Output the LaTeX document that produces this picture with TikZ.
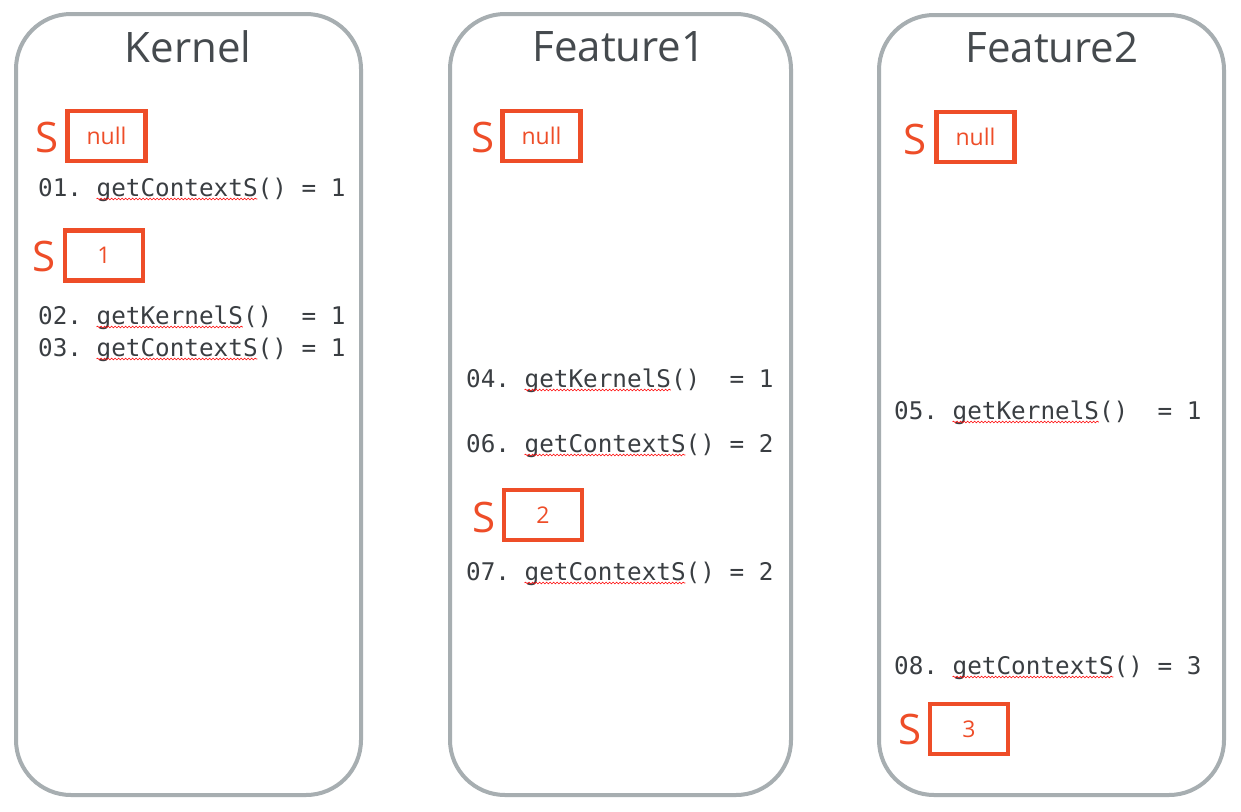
\documentclass[tikz,border=0pt]{standalone}
\usepackage{fontspec}
\setmainfont{Open Sans}
\setmonofont{DejaVu Sans Mono}
\usetikzlibrary{decorations.pathmorphing}
\definecolor{panelgray}{HTML}{A7AEB1}
\definecolor{sred}{HTML}{EE4D28}
\definecolor{codegray}{HTML}{3A3E42}
\definecolor{titlegray}{HTML}{454A4E}
\tikzset{
  panel/.style={draw=panelgray, line width=4pt, rounded corners=55pt, minimum width=345pt, minimum height=781pt, inner sep=0pt},
  ptitle/.style={text=titlegray, font=\fontsize{42}{50}\selectfont, inner sep=0pt},
  slabel/.style={text=sred, font=\fontsize{42}{50}\selectfont, inner sep=0pt},
  valbox/.style={draw=sred, line width=4.5pt, minimum width=78pt, minimum height=50pt, text=sred, font=\fontsize{23}{28}\selectfont, inner sep=0pt},
  codeline/.style={anchor=base west, text=codegray, font=\ttfamily\fontsize{24.3}{29}\selectfont\frenchspacing, inner sep=0pt},
  spell/.style={draw=red, line width=0.6pt, decorate, decoration={snake, amplitude=0.9pt, segment length=3.5pt}}
}
\newcommand{\spellmark}[3]{\draw[spell] ({#1+4*14.63},{#2+3}) -- ({#1+#3*14.63},{#2+3});}
\begin{document}
\begin{tikzpicture}[x=1pt,y=-1pt]
\useasboundingbox (0,0) rectangle (1241,811);
\fill[white] (0,0) rectangle (1241,811);
% panels
\node[panel] (kernel) at (188.5,404.5) {};
\node[panel, minimum width=341pt] (feat1) at (620.5,404.5) {};
\node[panel, minimum height=780pt] (feat2) at (1051.5,405) {};
% titles
\node[ptitle] (tk) at (188,47) {Kernel};
\node[ptitle] (tf1) at (619,47) {Feature1};
\node[ptitle] (tf2) at (1052,47) {Feature2};
% Kernel
\node[slabel] (ks1) at (47.5,137) {S};
\node[valbox] (kb1) at (106.5,136) {null};
\node[codeline] (k01) at (38,196) {01.\ getContextS()\ =\ 1};
\node[slabel] (ks2) at (44,256) {S};
\node[valbox] (kb2) at (104,255.5) {1};
\node[codeline] (k02) at (38,324) {02.\ getKernelS()\ \ =\ 1};
\node[codeline] (k03) at (38,356) {03.\ getContextS()\ =\ 1};
% Feature1
\node[slabel] (fs1) at (483,137) {S};
\node[valbox] (fb1) at (541.5,136) {null};
\node[codeline] (f04) at (466,387) {04.\ getKernelS()\ \ =\ 1};
\node[codeline] (f06) at (466,452) {06.\ getContextS()\ =\ 2};
\node[slabel] (fs2) at (484,517) {S};
\node[valbox] (fb2) at (543,515) {2};
\node[codeline] (f07) at (466,580) {07.\ getContextS()\ =\ 2};
% Feature2
\node[slabel] (gs1) at (915,139) {S};
\node[valbox] (gb1) at (975.5,137) {null};
\node[codeline] (g05) at (894,419) {05.\ getKernelS()\ \ =\ 1};
\node[codeline] (g08) at (894,674) {08.\ getContextS()\ =\ 3};
\node[slabel] (gs2) at (910,729) {S};
\node[valbox] (gb2) at (969,729) {3};
% spell-check marks
\spellmark{38}{196}{15}
\spellmark{38}{324}{14}
\spellmark{38}{356}{15}
\spellmark{466}{387}{14}
\spellmark{466}{452}{15}
\spellmark{466}{580}{15}
\spellmark{894}{419}{14}
\spellmark{894}{674}{15}
\end{tikzpicture}
\end{document}
